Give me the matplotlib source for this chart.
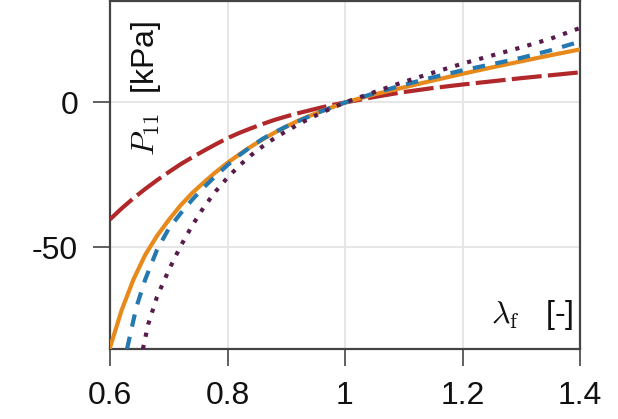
import matplotlib
matplotlib.use("Agg")
import matplotlib.pyplot as plt

# ---- data ----
lam_red = [0.6, 0.62, 0.64, 0.66, 0.68, 0.70, 0.72, 0.74, 0.76, 0.78, 0.80, 0.82, 0.84, 0.86, 0.88,
           0.90, 0.92, 0.94, 0.96, 0.98, 1.0, 1.05, 1.1, 1.15, 1.2, 1.25, 1.3, 1.35, 1.4]
p_red = [-40.3, -36.5, -33.0, -29.8, -26.8, -24.0, -21.3, -18.9, -16.6, -14.4, -12.3, -10.5, -8.9, -7.4, -6.0,
         -4.8, -3.7, -2.7, -1.7, -0.8, 0.0, 1.9, 3.6, 5.0, 6.2, 7.3, 8.4, 9.4, 10.4]

lam_orange = [0.6, 0.62, 0.64, 0.66, 0.68, 0.70, 0.72, 0.74, 0.76, 0.78, 0.80, 0.82, 0.84, 0.86, 0.88,
              0.90, 0.92, 0.94, 0.96, 0.98, 1.0, 1.05, 1.1, 1.15, 1.2, 1.25, 1.3, 1.35, 1.4]
p_orange = [-84.5, -71.5, -61.0, -52.5, -46.0, -40.5, -35.5, -31.2, -27.5, -24.0, -20.8, -17.9, -15.2, -12.7, -10.4,
            -8.3, -6.3, -4.6, -3.0, -1.5, 0.0, 2.8, 5.2, 7.6, 9.9, 12.1, 14.2, 16.3, 18.3]

lam_blue = [0.629, 0.635, 0.645, 0.66, 0.68, 0.70, 0.72, 0.74, 0.76, 0.78, 0.80, 0.82, 0.84, 0.86, 0.88,
            0.90, 0.92, 0.94, 0.96, 0.98, 1.0, 1.05, 1.1, 1.15, 1.2, 1.25, 1.3, 1.35, 1.4]
p_blue = [-85.0, -79.5, -70.5, -61.0, -50.8, -43.5, -38.3, -33.5, -29.2, -25.3, -21.6, -18.2, -15.2, -12.5, -10.3,
          -8.3, -6.5, -4.7, -3.0, -1.5, 0.0, 3.2, 6.1, 8.7, 11.1, 13.2, 15.4, 18.0, 21.0]

lam_purple = [0.656, 0.665, 0.68, 0.70, 0.72, 0.74, 0.76, 0.78, 0.80, 0.82, 0.84, 0.86, 0.88,
              0.90, 0.92, 0.94, 0.96, 0.98, 1.0, 1.05, 1.1, 1.15, 1.2, 1.25, 1.3, 1.35, 1.4]
p_purple = [-85.0, -76.5, -67.0, -57.8, -49.6, -42.4, -36.0, -30.6, -25.9, -21.8, -18.2, -15.1, -12.3,
            -9.9, -7.6, -5.5, -3.5, -1.7, 0.0, 3.6, 7.1, 10.3, 13.4, 16.2, 19.0, 22.0, 25.7]

xticks = [0.6, 0.8, 1.0, 1.2, 1.4]
xticklabels = ["0.6", "0.8", "1", "1.2", "1.4"]
yticks = [-50, 0]
yticklabels = ["-50", "0"]

plt.rcParams["mathtext.fontset"] = "cm"
plt.rcParams["font.family"] = ["Liberation Sans", "DejaVu Sans"]

fig = plt.figure(figsize=(6.18, 4.19), dpi=100)
ax = fig.add_axes([110 / 618, 70 / 419, 470 / 618, 348 / 419])

lw = 3.0
ax.plot(lam_red, p_red, color="#b0282a", lw=lw, dashes=(7.2, 1.5), zorder=3)
ax.plot(lam_orange, p_orange, color="#e8891b", lw=lw, zorder=4)
ax.plot(lam_blue, p_blue, color="#2479b0", lw=lw, dashes=(3.0, 2.5), zorder=5)
ax.plot(lam_purple, p_purple, color="#581c4c", lw=lw, dashes=(1.0, 2.0), zorder=6)

ax.set_xlim(0.6, 1.4)
ax.set_ylim(-85, 35)
ax.set_xticks(xticks)
ax.set_xticklabels(xticklabels)
ax.set_yticks(yticks)
ax.set_yticklabels(yticklabels)

ax.grid(True, color="#e6e6e6", lw=1.4, zorder=0)
ax.set_axisbelow(True)
for s in ax.spines.values():
    s.set_color("#444444")
    s.set_linewidth(1.6)
ax.tick_params(axis="both", direction="out", length=12, width=1.2, color="#444444",
               labelsize=23, pad=11, labelcolor="#111111")

ax.text(0.077, 0.75, r"$P_{11}$  [kPa]", transform=ax.transAxes, rotation=90,
        ha="center", va="center", fontsize=23, color="#111111")
ax.text(0.985, 0.05, r"$\lambda_\mathrm{f}$   [-]", transform=ax.transAxes,
        ha="right", va="bottom", fontsize=23, color="#111111")

fig.savefig("out.png", dpi=100)
